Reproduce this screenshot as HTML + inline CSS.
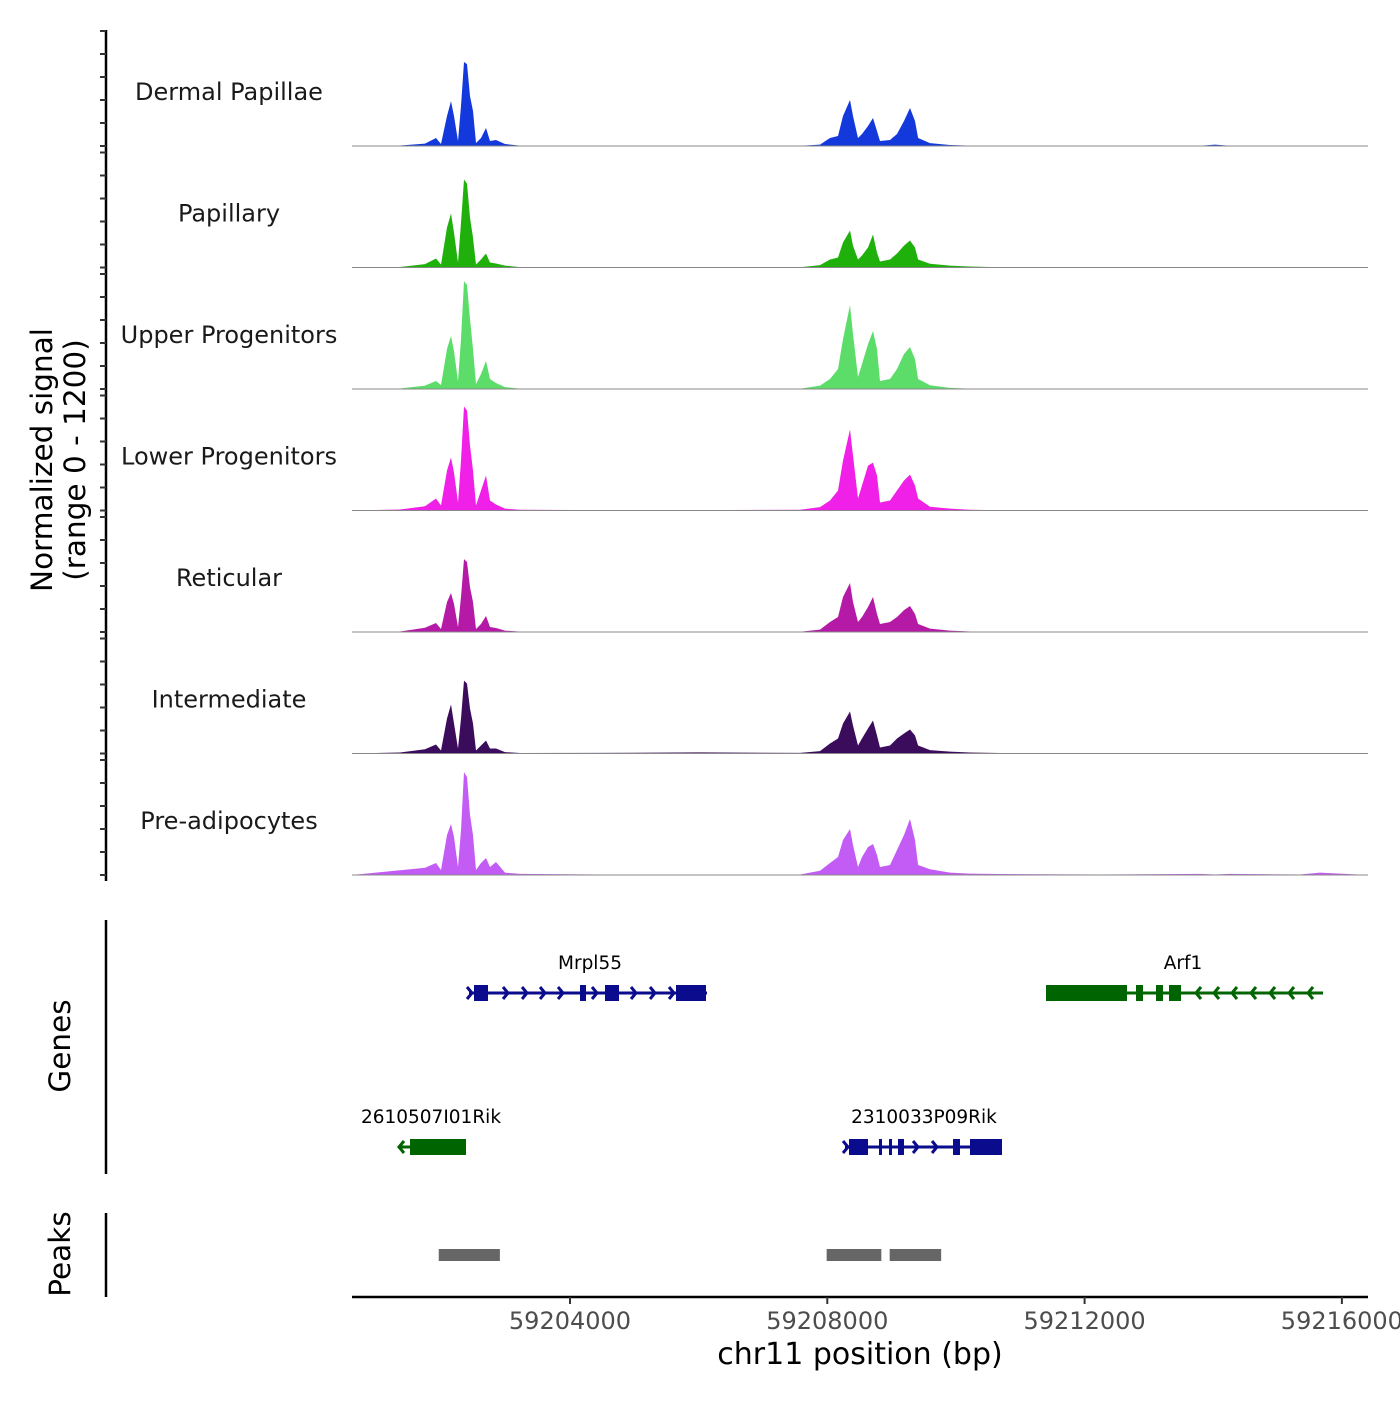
<!DOCTYPE html>
<html><head><meta charset="utf-8"><style>
html,body{margin:0;padding:0;background:#fff}
svg text{font-family:"DejaVu Sans","Liberation Sans",sans-serif}
</style></head><body>
<svg id="chart" width="1400" height="1400" viewBox="0 0 1400 1400" xmlns="http://www.w3.org/2000/svg">
<g id="tracks"></g>
<g id="yaxis"></g>
<text transform="translate(52,460) rotate(-90)" text-anchor="middle" font-size="29.5" fill="#000">Normalized signal</text>
<text transform="translate(85,460) rotate(-90)" text-anchor="middle" font-size="29.5" fill="#000">(range 0 - 1200)</text>
<line x1="106" y1="920" x2="106" y2="1174" stroke="#000" stroke-width="2.5"/>
<text transform="translate(70,1046) rotate(-90)" text-anchor="middle" font-size="29.5">Genes</text>
<line x1="106" y1="1213" x2="106" y2="1297" stroke="#000" stroke-width="2.5"/>
<text transform="translate(70,1254) rotate(-90)" text-anchor="middle" font-size="29.5">Peaks</text>
<g id="genes"></g>
<g id="peaks"></g>
<g id="xaxis"></g>
<text x="860" y="1364" text-anchor="middle" font-size="30">chr11 position (bp)</text>
</svg>
<script>
const positions=[59200611,59201357,59201746,59201917,59201995,59202088,59202150,59202197,59202259,59202305,59202352,59202399,59202445,59202492,59202539,59202616,59202694,59202756,59202850,59202990,59203223,59204466,59206021,59207576,59207887,59208042,59208167,59208244,59208353,59208400,59208477,59208540,59208633,59208711,59208773,59208820,59208975,59209084,59209193,59209286,59209364,59209411,59209597,59209908,59210219,59210685,59212240,59213794,59214027,59214260,59215349,59215660,59216406];
const cellTypes=["Dermal Papillae","Papillary","Upper Progenitors","Lower Progenitors","Reticular","Intermediate","Pre-adipocytes"];
const trackColors=["#1339dd","#20b00c","#5cdd6a","#f020e8","#b41aa6","#3c0c5c","#c35cf5"];
const dermalPapillae=[0,5,25,83,21,313,469,313,52,417,876,855,521,365,31,83,188,52,63,21,4,3,3,3,15,83,104,313,480,313,83,125,209,292,156,52,63,125,261,396,261,83,30,10,4,3,3,3,15,3,3,3,0];
const papillary=[0,5,35,94,31,417,563,365,52,469,918,876,521,313,31,83,146,52,42,20,4,3,3,3,25,83,104,261,386,229,83,125,209,344,156,63,83,146,229,282,209,83,40,20,10,3,3,3,3,3,3,3,0];
const upperProgenitors=[0,5,35,83,42,417,553,396,83,521,1126,1085,730,417,52,156,292,104,63,20,4,3,3,3,35,104,209,521,876,574,125,261,469,605,417,83,104,209,365,438,313,104,40,12,4,3,3,3,3,3,3,3,0];
const lowerProgenitors=[0,10,45,125,52,417,553,396,83,521,1085,1043,678,417,52,209,365,104,63,20,8,4,4,8,35,104,209,521,845,574,125,261,469,500,365,83,104,209,313,375,261,125,40,20,8,3,3,3,3,3,3,3,0];
const reticular=[0,5,45,94,31,313,407,292,52,365,761,730,469,313,31,83,167,52,42,15,4,3,3,3,25,104,156,365,511,313,104,156,261,365,188,83,104,156,229,271,188,83,35,15,5,3,3,3,3,3,3,3,0];
const intermediate=[0,10,45,94,31,365,511,313,52,365,761,730,469,313,31,83,136,52,52,15,5,6,12,6,25,104,156,313,438,292,83,156,261,344,188,63,83,156,209,250,188,83,35,20,10,5,5,5,5,5,5,5,0];
const preAdipocytes=[0,50,75,125,52,417,532,396,83,469,1074,1022,626,417,52,125,177,83,136,25,12,5,5,5,45,125,188,365,480,313,83,188,292,323,209,83,104,261,417,584,365,104,60,25,15,10,5,12,5,12,5,25,0];
const signalSeries=[dermalPapillae,papillary,upperProgenitors,lowerProgenitors,reticular,intermediate,preAdipocytes];
const xTicks=[59204000,59208000,59212000,59216000];
const peakStarts=[59201960,59207990,59208970];
const peakEnds=[59202910,59208840,59209770];

const NS="http://www.w3.org/2000/svg";
const X0=352,X1=1368,BP0=59200611,BP1=59216406;
const xs=bp=>X0+(bp-BP0)/(BP1-BP0)*(X1-X0);
const trackH=115, trackStep=121.5, firstBase=146;
const ys=(v,i)=>firstBase+i*trackStep - v/1200*trackH;
function mk(tag,attrs,parent){const e=document.createElementNS(NS,tag);for(const k in attrs)e.setAttribute(k,attrs[k]);parent.appendChild(e);return e;}

const tracks=document.getElementById('tracks');
const yaxis=document.getElementById('yaxis');
const yl=mk('line',{x1:106,y1:30,x2:106,y2:881,stroke:'#000','stroke-width':2.5},yaxis);


signalSeries.forEach((vals,i)=>{
  const base=firstBase+i*trackStep;
  let d='M'+xs(positions[0])+','+base;
  vals.forEach((v,j)=>{d+=' L'+xs(positions[j]).toFixed(1)+','+ys(v,i).toFixed(1);});
  d+=' L'+xs(positions[positions.length-1])+','+base+' Z';
  const p=mk('path',{d:d,fill:trackColors[i]},tracks);
  
  
  const bl=mk('line',{x1:X0,y1:base,x2:X1,y2:base,stroke:'#888','stroke-width':1},tracks);
  
  
  const t=mk('text',{x:229,y:base-46,'text-anchor':'middle','font-size':24,fill:'#1a1a1a'},tracks);
  t.textContent=cellTypes[i];
  
  
  for(let k=0;k<=5;k++){
    const ty=base-k*23;
    const tk=mk('line',{x1:100,y1:ty,x2:106,y2:ty,stroke:'#333','stroke-width':2},yaxis);
    
    
  }
});

// genes
const genes=document.getElementById('genes');
function gene(name,y,x1,x2,col,exons,arrows,dir,lx){
  const g=mk('g',{},genes);
  
  
  mk('line',{x1:x1,y1:y,x2:x2,y2:y,stroke:col,'stroke-width':3},g);
  exons.forEach(e=>mk('rect',{x:e[0],y:y-8,width:e[1]-e[0],height:16,fill:col},g));
  arrows.forEach(a=>{const s=dir>0?-5:5;mk('path',{d:`M${a+s},${y-6} L${a},${y} L${a+s},${y+6}`,stroke:col,'stroke-width':3,fill:'none'},g);});
  const t=mk('text',{x:lx,y:y-24,'text-anchor':'middle','font-size':18.5},g);
  t.textContent=name;
}
gene('Mrpl55',993,469,707,'#0b0b8e',[[474,488],[580,586],[605,619],[676,706]],[472,508,527,545,563,597,636,655,674],1,590);
gene('Arf1',993,1046,1323,'#006400',[[1046,1127],[1136,1143],[1156,1163],[1169,1181]],[1196,1214,1232,1251,1270,1289,1308],-1,1183);
gene('2610507I01Rik',1147,398,466,'#006400',[[410,466]],[399],-1,431);
gene('2310033P09Rik',1147,845,1002,'#0b0b8e',[[849,868],[879,882],[889,892],[898,904],[953,960],[970,1002]],[848,918,937],1,924);

// peaks
const peaks=document.getElementById('peaks');
peakStarts.forEach((s,i)=>{
  const r=mk('rect',{x:xs(s),y:1249,width:xs(peakEnds[i])-xs(s),height:12,fill:'#666'},peaks);
  
  
});

// x axis
const xa=document.getElementById('xaxis');
const xl=mk('line',{x1:X0,y1:1297,x2:X1,y2:1297,stroke:'#000','stroke-width':2.5},xa);


xTicks.forEach(v=>{
  const x=xs(v);
  const tk=mk('line',{x1:x,y1:1297,x2:x,y2:1304,stroke:'#333','stroke-width':2},xa);
  
  
  const t=mk('text',{x:x,y:1329,'text-anchor':'middle','font-size':24,fill:'#4d4d4d'},xa);
  t.textContent=v;
  
  
});
</script>
</body></html>
